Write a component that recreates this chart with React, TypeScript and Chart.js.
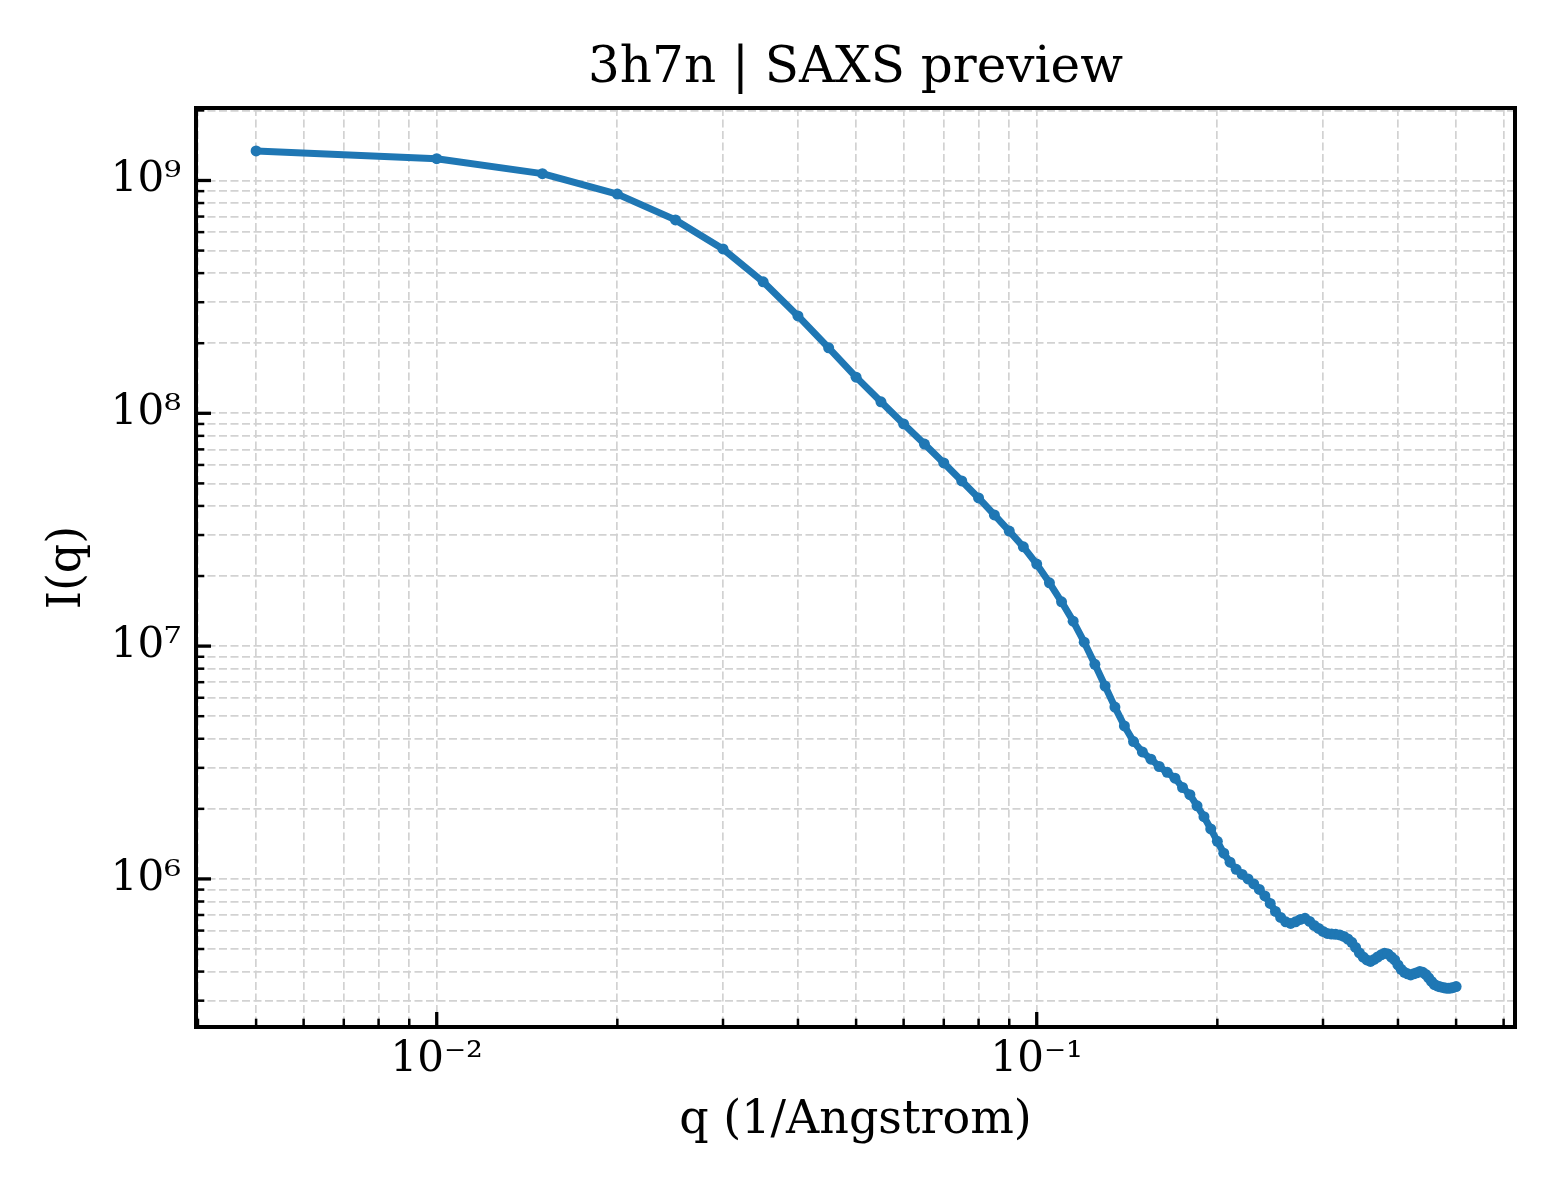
import React, { useRef, useEffect } from "react";
import { Chart, registerables } from "chart.js";

Chart.register(...registerables);

// SAXS curve
const qValues = [
    0.005, 0.01, 0.015, 0.02, 0.025, 0.03, 0.035, 0.04, 0.045, 0.05,
    0.055, 0.06, 0.065, 0.07, 0.075, 0.08, 0.085, 0.09, 0.095, 0.1,
    0.105, 0.11, 0.115, 0.12, 0.125, 0.13, 0.135, 0.14, 0.145, 0.15,
    0.155, 0.16, 0.165, 0.17, 0.175, 0.18, 0.185, 0.19, 0.195, 0.2,
    0.205, 0.21, 0.215, 0.22, 0.225, 0.23, 0.235, 0.24, 0.245, 0.25,
    0.255, 0.26, 0.265, 0.27, 0.275, 0.28, 0.285, 0.29, 0.295, 0.3,
    0.305, 0.31, 0.315, 0.32, 0.325, 0.33, 0.335, 0.34, 0.345, 0.35,
    0.355, 0.36, 0.365, 0.37, 0.375, 0.38, 0.385, 0.39, 0.395, 0.4,
    0.405, 0.41, 0.415, 0.42, 0.425, 0.43, 0.435, 0.44, 0.445, 0.45,
    0.455, 0.46, 0.465, 0.47, 0.475, 0.48, 0.485, 0.49, 0.495, 0.5,
];

const intensity = [
    1.34e9, 1.24e9, 1.07e9, 8.74e8, 6.77e8, 5.08e8, 3.67e8, 2.62e8, 1.91e8, 1.43e8,
    1.12e8, 9.0e7, 7.38e7, 6.12e7, 5.12e7, 4.33e7, 3.66e7, 3.12e7, 2.67e7, 2.25e7,
    1.87e7, 1.55e7, 1.28e7, 1.04e7, 8.35e6, 6.74e6, 5.47e6, 4.54e6, 3.89e6, 3.51e6,
    3.27e6, 3.04e6, 2.87e6, 2.71e6, 2.47e6, 2.30e6, 2.06e6, 1.85e6, 1.64e6, 1.45e6,
    1.29e6, 1.18e6, 1.10e6, 1.045e6, 1.0e6, 9.52e5, 9.01e5, 8.45e5, 7.85e5, 7.25e5,
    6.83e5, 6.54e5, 6.44e5, 6.54e5, 6.70e5, 6.77e5, 6.57e5, 6.31e5, 6.13e5, 5.95e5,
    5.83e5, 5.80e5, 5.78e5, 5.75e5, 5.66e5, 5.52e5, 5.34e5, 5.08e5, 4.81e5, 4.62e5,
    4.49e5, 4.42e5, 4.51e5, 4.62e5, 4.72e5, 4.79e5, 4.76e5, 4.62e5, 4.49e5, 4.27e5,
    4.09e5, 3.97e5, 3.91e5, 3.87e5, 3.91e5, 3.95e5, 4.00e5, 3.97e5, 3.89e5, 3.76e5,
    3.63e5, 3.52e5, 3.47e5, 3.44e5, 3.42e5, 3.40e5, 3.39e5, 3.40e5, 3.42e5, 3.45e5,
];

// tick positions (majors get a 10^n label, the rest are minor)
const xTickValues = [
    0.004, 0.005, 0.006, 0.007, 0.008, 0.009,
    0.01, 0.02, 0.03, 0.04, 0.05, 0.06, 0.07, 0.08, 0.09,
    0.1, 0.2, 0.3, 0.4, 0.5, 0.6,
];
const yTickValues = [
    3e5, 4e5, 5e5, 6e5, 7e5, 8e5, 9e5,
    1e6, 2e6, 3e6, 4e6, 5e6, 6e6, 7e6, 8e6, 9e6,
    1e7, 2e7, 3e7, 4e7, 5e7, 6e7, 7e7, 8e7, 9e7,
    1e8, 2e8, 3e8, 4e8, 5e8, 6e8, 7e8, 8e8, 9e8,
    1e9, 2e9,
];

const chartTitle = "3h7n | SAXS preview";
const xTitle = "q (1/Angstrom)";
const yTitle = "I(q)";

const FONT = "'DejaVu Serif', serif";
const LINE_BLUE = "#1f77b4";

const SUP: Record<string, string> = {
    "-": "\u207B", "0": "\u2070", "1": "\u00B9", "2": "\u00B2", "3": "\u00B3",
    "4": "\u2074", "5": "\u2075", "6": "\u2076", "7": "\u2077", "8": "\u2078", "9": "\u2079",
};

const isPow10 = (v: number) => {
    const e = Math.log10(v);
    return Math.abs(e - Math.round(e)) < 1e-6;
};

const powerLabel = (v: number) => {
    if (!isPow10(v)) return "";
    const e = Math.round(Math.log10(v));
    return "10" + String(e).split("").map((c) => SUP[c]).join("");
};

// matplotlib-like frame with inward ticks on bottom and left
const framePlugin = {
    id: "frame",
    afterDatasetsDraw(chart: any) {
        const { ctx, chartArea: a, scales } = chart;
        ctx.save();
        ctx.strokeStyle = "#000";
        ctx.lineCap = "butt";
        scales.x.ticks.forEach((t: any) => {
            const p = scales.x.getPixelForValue(t.value);
            if (p < a.left || p > a.right) return;
            ctx.lineWidth = t.major ? 3.3 : 2.5;
            ctx.beginPath();
            ctx.moveTo(p, a.bottom);
            ctx.lineTo(p, a.bottom - (t.major ? 15 : 8.3));
            ctx.stroke();
        });
        scales.y.ticks.forEach((t: any) => {
            const p = scales.y.getPixelForValue(t.value);
            if (p < a.top || p > a.bottom) return;
            ctx.lineWidth = t.major ? 3.3 : 2.5;
            ctx.beginPath();
            ctx.moveTo(a.left, p);
            ctx.lineTo(a.left + (t.major ? 15 : 8.3), p);
            ctx.stroke();
        });
        ctx.lineWidth = 4;
        ctx.strokeRect(a.left, a.top, a.right - a.left, a.bottom - a.top);
        ctx.restore();
    },
};

const SaxsChart: React.FC = (): JSX.Element => {

    const canvasRef = useRef<HTMLCanvasElement>(null);

    useEffect(() => {
        document.body.style.margin = "0";
        if (!canvasRef.current) return;
        const chart = initChart(canvasRef.current);
        return () => chart.destroy();
    }, []);

    return (
        <div style={{ width: 1560, height: 1200, background: "#fff" }}>
            <canvas ref={canvasRef} width="1560" height="1200" style={{ display: "block" }}></canvas>
        </div>
    );
};

export default function App() {
    return <SaxsChart />;
}

function initChart(dom: HTMLCanvasElement): Chart {

    const gridOpts = { color: "#d2d2d2", lineWidth: 1.7, drawTicks: false };
    const borderOpts = { display: false, dash: [8, 3.5] };

    return new Chart(dom, {
        type: "line",
        data: {
            datasets: [{
                label: "I(q)",
                data: qValues.map((q, i) => ({ x: q, y: intensity[i] })),
                borderColor: LINE_BLUE,
                backgroundColor: LINE_BLUE,
                borderWidth: 7,
                borderJoinStyle: "round",
                pointRadius: 5.5,
                pointBorderWidth: 0,
                pointBackgroundColor: LINE_BLUE,
                tension: 0,
                fill: false,
            }],
        },
        plugins: [framePlugin],
        options: {
            responsive: false,
            animation: false,
            devicePixelRatio: 1,
            layout: { padding: { left: 0, right: 45, top: 0, bottom: 0 } },
            plugins: {
                legend: { display: false },
                tooltip: { enabled: false },
                title: {
                    display: true,
                    fullSize: false,
                    text: chartTitle,
                    color: "#000",
                    font: { family: FONT, size: 50, weight: "normal" },
                    padding: { top: 39, bottom: 9 },
                },
            },
            scales: {
                x: {
                    type: "logarithmic",
                    position: "bottom",
                    min: 0.00397,
                    max: 0.6268,
                    bounds: "data",
                    afterBuildTicks: (s: any) => {
                        s.ticks = xTickValues.map((v) => ({ value: v, major: isPow10(v) }));
                    },
                    afterFit: (s: any) => { s.height = 173; },
                    grid: gridOpts,
                    border: borderOpts,
                    ticks: {
                        autoSkip: false,
                        maxRotation: 0,
                        minRotation: 0,
                        padding: 8,
                        color: "#000",
                        font: { family: FONT, size: 42 },
                        callback: (v: any) => powerLabel(Number(v)),
                    },
                    title: {
                        display: true,
                        text: xTitle,
                        color: "#000",
                        font: { family: FONT, size: 46 },
                        padding: { top: 0, bottom: 51 },
                    },
                },
                y: {
                    type: "logarithmic",
                    position: "left",
                    min: 2.312e5,
                    max: 2.048e9,
                    bounds: "data",
                    afterBuildTicks: (s: any) => {
                        s.ticks = yTickValues.map((v) => ({ value: v, major: isPow10(v) }));
                    },
                    afterFit: (s: any) => { s.width = 196; },
                    grid: gridOpts,
                    border: borderOpts,
                    ticks: {
                        autoSkip: false,
                        padding: 15,
                        color: "#000",
                        font: { family: FONT, size: 42 },
                        callback: (v: any) => powerLabel(Number(v)),
                    },
                    title: {
                        display: true,
                        text: yTitle,
                        color: "#000",
                        font: { family: FONT, size: 46 },
                        padding: { top: 40, bottom: 0 },
                    },
                },
            },
        },
    });
}
